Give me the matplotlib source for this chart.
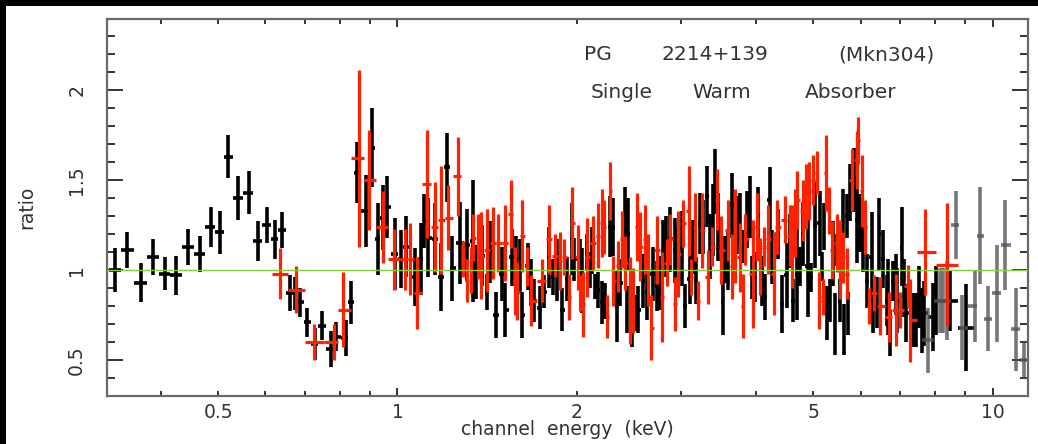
import numpy as np
import matplotlib
matplotlib.use('Agg')
import matplotlib.pyplot as plt
from matplotlib.patches import Rectangle
from matplotlib.ticker import FixedLocator, FixedFormatter, MultipleLocator

# data/model ratio: energy (keV), ratio, 1-sigma error
black_e = [0.335, 0.351, 0.3705, 0.388, 0.4065, 0.424, 0.444, 0.465, 0.486, 0.503,
           0.520, 0.539, 0.562, 0.582, 0.603, 0.622, 0.639, 0.659, 0.672, 0.685,
           0.706, 0.726, 0.746, 0.772, 0.787, 0.818, 0.834, 0.854, 0.884, 0.905,
           0.926, 0.944, 0.962, 0.989,
           1.012, 1.035, 1.072, 1.097, 1.110, 1.127, 1.158, 1.185, 1.213, 1.237,
           1.276, 1.310, 1.341, 1.357, 1.389, 1.416, 1.432, 1.466, 1.500, 1.517,
           1.560, 1.584, 1.608, 1.620, 1.658, 1.677, 1.697, 1.738, 1.765, 1.800,
           1.826, 1.855, 1.892, 1.928, 1.966, 1.980, 2.028, 2.044, 2.084, 2.108,
           2.124, 2.149, 2.174, 2.208, 2.234, 2.278, 2.304, 2.339, 2.366, 2.413,
           2.430, 2.440, 2.479, 2.508, 2.537, 2.587, 2.627, 2.689, 2.730, 2.762,
           2.794, 2.827, 2.871, 2.927, 2.950, 3.007, 3.042, 3.101, 3.137, 3.174,
           3.224, 3.262, 3.313, 3.352, 3.391, 3.417, 3.457, 3.524, 3.550, 3.590,
           3.648, 3.718, 3.760, 3.805, 3.866, 3.911, 3.942, 3.988, 4.035, 4.097,
           4.145, 4.226, 4.258, 4.358, 4.425, 4.511, 4.563, 4.616, 4.690, 4.745,
           4.800, 4.894, 4.951, 5.027, 5.125, 5.166, 5.206, 5.266, 5.328, 5.390,
           5.431, 5.473, 5.537, 5.602, 5.623, 5.689, 5.710, 5.755, 5.846, 5.914,
           5.983, 6.052, 6.146, 6.266, 6.290, 6.390, 6.450, 6.540, 6.640, 6.680,
           6.720, 6.795, 6.870, 6.920, 7.037, 7.100, 7.160, 7.340, 7.430, 7.510,
           7.600, 7.660, 7.930, 8.050, 8.470, 9.010]
black_r = [1.00, 1.11, 0.93, 1.07, 0.98, 0.97, 1.13, 1.09, 1.24, 1.21,
           1.63, 1.40, 1.43, 1.16, 1.25, 1.17, 1.22, 0.87, 0.87, 0.82,
           0.71, 0.59, 0.69, 0.56, 0.63, 0.62, 0.82, 1.54, 1.33, 1.68,
           1.17, 1.29, 1.35, 1.09,
           1.06, 1.13, 0.96, 1.06, 1.27, 1.18, 1.17, 0.96, 1.57, 1.01,
           1.15, 1.14, 1.16, 0.99, 1.08, 0.88, 1.10, 0.75, 0.98, 0.78,
           1.07, 1.06, 1.02, 0.75, 1.02, 0.93, 0.83, 0.79, 0.88, 1.07,
           0.96, 1.00, 0.78, 0.95, 1.17, 1.06, 1.04, 0.94, 1.10, 1.00,
           1.11, 0.91, 0.89, 0.82, 0.83, 1.24, 1.24, 0.80, 0.93, 1.26,
           0.78, 1.20, 0.70, 0.76, 0.78, 0.94, 0.88, 0.98, 0.91, 0.93,
           1.15, 1.13, 1.17, 1.11, 1.07, 1.12, 0.80, 0.95, 1.13, 0.94,
           1.26, 1.24, 1.41, 1.13, 1.28, 1.49, 1.24, 0.82, 1.06, 1.06,
           1.36, 1.25, 1.29, 1.13, 1.28, 1.35, 0.96, 0.96, 1.30, 0.94,
           0.85, 1.39, 1.07, 1.20, 0.81, 0.97, 1.16, 0.83, 0.98, 1.02,
           1.20, 1.02, 0.96, 1.25, 1.26, 1.02, 1.24, 0.76, 0.83, 1.09,
           0.70, 1.11, 0.83, 1.26, 0.67, 1.30, 0.76, 1.43, 1.50, 1.28,
           1.26, 1.13, 0.94, 1.07, 0.78, 0.82, 1.20, 1.06, 0.83, 0.85,
           0.65, 0.94, 0.92, 0.83, 1.13, 0.90, 0.76, 0.72, 0.72, 0.85,
           0.72, 0.76, 0.74, 0.83, 0.83, 0.68]
black_err = [0.12, 0.10, 0.11, 0.10, 0.09, 0.11, 0.10, 0.10, 0.11, 0.12,
             0.12, 0.12, 0.12, 0.11, 0.10, 0.11, 0.10, 0.10, 0.09, 0.08,
             0.08, 0.09, 0.08, 0.10, 0.08, 0.10, 0.12, 0.17, 0.20, 0.22,
             0.20, 0.18, 0.17, 0.20,
             0.16, 0.17, 0.16, 0.20, 0.15, 0.22, 0.20, 0.19, 0.19, 0.18,
             0.23, 0.20, 0.34, 0.15, 0.17, 0.10, 0.17, 0.13, 0.15, 0.15,
             0.16, 0.13, 0.15, 0.13, 0.13, 0.13, 0.12, 0.12, 0.09, 0.17,
             0.10, 0.17, 0.12, 0.12, 0.20, 0.12, 0.13, 0.18, 0.10, 0.10,
             0.13, 0.07, 0.10, 0.12, 0.10, 0.17, 0.16, 0.20, 0.13, 0.20,
             0.13, 0.20, 0.13, 0.10, 0.13, 0.15, 0.16, 0.15, 0.14, 0.15,
             0.13, 0.17, 0.18, 0.18, 0.17, 0.21, 0.12, 0.14, 0.15, 0.13,
             0.17, 0.15, 0.17, 0.18, 0.20, 0.18, 0.19, 0.18, 0.13, 0.17,
             0.18, 0.16, 0.14, 0.09, 0.16, 0.17, 0.12, 0.14, 0.16, 0.14,
             0.13, 0.18, 0.15, 0.14, 0.16, 0.18, 0.15, 0.12, 0.26, 0.11,
             0.18, 0.28, 0.08, 0.24, 0.18, 0.08, 0.13, 0.15, 0.12, 0.18,
             0.17, 0.09, 0.12, 0.19, 0.14, 0.12, 0.12, 0.16, 0.18, 0.24,
             0.16, 0.14, 0.15, 0.25, 0.13, 0.14, 0.20, 0.16, 0.14, 0.21,
             0.13, 0.11, 0.17, 0.18, 0.22, 0.16, 0.16, 0.15, 0.15, 0.17,
             0.18, 0.18, 0.19, 0.19, 0.17, 0.24]

red_e = [0.634, 0.674, 0.723, 0.781, 0.809, 0.863, 0.894, 0.944, 0.987, 1.031,
         1.051, 1.080, 1.123, 1.158, 1.185, 1.218, 1.266, 1.290, 1.310, 1.331,
         1.341, 1.367, 1.383, 1.416, 1.449, 1.477, 1.517, 1.553, 1.578, 1.590,
         1.620, 1.652, 1.677, 1.751, 1.800, 1.840, 1.877, 1.906, 1.943, 1.966,
         2.012, 2.028, 2.052, 2.084, 2.132, 2.174, 2.208, 2.225, 2.251, 2.278,
         2.304, 2.348, 2.383, 2.413, 2.459, 2.489, 2.527, 2.557, 2.607, 2.637,
         2.668, 2.730, 2.783, 2.837, 2.871, 2.927, 2.962, 3.019, 3.089, 3.113,
         3.162, 3.199, 3.249, 3.326, 3.378, 3.444, 3.500, 3.590, 3.648, 3.690,
         3.760, 3.805, 3.835, 3.957, 4.020, 4.066, 4.130, 4.193, 4.290, 4.342,
         4.476, 4.563, 4.600, 4.650, 4.700, 4.800, 4.856, 4.913, 4.990, 5.067,
         5.105, 5.186, 5.246, 5.307, 5.369, 5.473, 5.537, 5.602, 5.689, 5.800,
         5.914, 5.937, 6.030, 6.100, 6.190, 6.330, 6.470, 6.700, 6.870, 6.980,
         7.200, 7.255, 7.690, 8.370]
red_r = [0.98, 0.89, 0.60, 0.60, 0.78, 1.62, 1.50, 1.24, 1.06, 1.06,
         1.06, 0.87, 1.48, 1.24, 1.28, 1.29, 1.52, 1.06, 0.94, 1.00,
         1.18, 1.13, 1.08, 1.11, 1.15, 1.15, 1.15, 1.31, 0.94, 0.88,
         1.19, 1.02, 0.83, 0.94, 1.17, 1.08, 1.05, 1.07, 0.85, 1.26,
         1.07, 0.87, 0.81, 1.07, 1.15, 1.19, 1.26, 1.24, 0.74, 1.44,
         0.94, 1.02, 1.17, 1.04, 0.83, 0.83, 1.24, 1.13, 1.17, 1.00,
         0.68, 1.11, 0.85, 1.04, 1.17, 0.81, 1.09, 1.26, 1.33, 0.96,
         1.24, 0.83, 1.22, 0.96, 1.13, 1.39, 1.11, 1.22, 1.02, 1.19,
         1.07, 0.80, 1.17, 0.98, 1.24, 1.02, 1.13, 1.17, 0.98, 1.24,
         1.28, 1.19, 1.13, 1.26, 1.39, 1.33, 1.41, 1.44, 1.50, 1.54,
         0.83, 0.85, 1.54, 1.33, 1.11, 1.15, 1.06, 1.07, 0.98, 1.50,
         1.61, 1.72, 1.44, 1.24, 0.80, 0.87, 0.80, 0.74, 0.78, 0.78,
         0.91, 0.72, 1.10, 1.03]
red_err = [0.14, 0.13, 0.10, 0.10, 0.21, 0.49, 0.28, 0.20, 0.17, 0.17,
           0.20, 0.20, 0.30, 0.25, 0.30, 0.18, 0.22, 0.10, 0.12, 0.13,
           0.13, 0.18, 0.24, 0.23, 0.20, 0.16, 0.21, 0.19, 0.19, 0.16,
           0.20, 0.11, 0.14, 0.12, 0.19, 0.12, 0.16, 0.10, 0.13, 0.20,
           0.18, 0.10, 0.18, 0.22, 0.15, 0.18, 0.19, 0.15, 0.12, 0.16,
           0.14, 0.14, 0.16, 0.15, 0.24, 0.18, 0.19, 0.19, 0.19, 0.20,
           0.18, 0.19, 0.25, 0.13, 0.14, 0.15, 0.24, 0.13, 0.25, 0.10,
           0.19, 0.11, 0.21, 0.15, 0.11, 0.17, 0.19, 0.17, 0.18, 0.26,
           0.19, 0.18, 0.14, 0.30, 0.19, 0.16, 0.11, 0.19, 0.23, 0.15,
           0.13, 0.17, 0.23, 0.19, 0.16, 0.17, 0.18, 0.16, 0.14, 0.12,
           0.16, 0.10, 0.21, 0.13, 0.16, 0.16, 0.22, 0.14, 0.14, 0.17,
           0.16, 0.13, 0.20, 0.15, 0.10, 0.10, 0.16, 0.14, 0.20, 0.10,
           0.12, 0.23, 0.24, 0.34]

grey_e = [7.78, 8.15, 8.25, 8.37, 8.67, 8.87, 9.33, 9.51, 9.81, 10.16, 10.51, 10.97, 11.30]
grey_r = [0.61, 0.83, 0.83, 0.83, 1.25, 0.68, 0.80, 1.19, 0.73, 0.87, 1.14, 0.67, 0.50]
grey_err = [0.18, 0.18, 0.18, 0.22, 0.19, 0.18, 0.20, 0.27, 0.18, 0.27, 0.25, 0.23, 0.10]


def bin_halfwidths(e):
    # half-widths in log space from the spacing of neighbouring channels
    e = np.asarray(e, dtype=float)
    edges = np.sqrt(e[1:] * e[:-1])
    lo = np.empty_like(e)
    hi = np.empty_like(e)
    lo[1:] = e[1:] - edges
    hi[:-1] = edges - e[:-1]
    lo[0] = e[0] - e[0] ** 2 / edges[0]
    hi[-1] = e[-1] ** 2 / edges[-1] - e[-1]
    return np.vstack([lo, hi])


fig = plt.figure(figsize=(10.38, 4.44), dpi=100)
fig.patch.set_facecolor('black')
fig.patches.append(Rectangle((6 / 1038, 0), 1 - 6 / 1038, 1 - 6 / 444,
                             transform=fig.transFigure, facecolor='white',
                             edgecolor='none', zorder=-1))
ax = fig.add_axes([107 / 1038, 1 - 396 / 444, 921 / 1038, 377 / 444])

ax.errorbar(black_e, black_r, yerr=black_err, xerr=bin_halfwidths(black_e),
            fmt='none', ecolor='black', elinewidth=2.6, capsize=0, zorder=2)
ax.errorbar(red_e, red_r, yerr=red_err, xerr=bin_halfwidths(red_e),
            fmt='none', ecolor='#ff2200', elinewidth=2.3, capsize=0, zorder=3)
ax.errorbar(grey_e, grey_r, yerr=grey_err, xerr=bin_halfwidths(grey_e),
            fmt='none', ecolor='#555555', elinewidth=2.6, capsize=0, alpha=0.8, zorder=2)
ax.axhline(1.0, color='#80cf3c', lw=1.0, zorder=5)

ax.set_xscale('log')
ax.set_xlim(0.325, 11.47)
ax.set_ylim(0.3, 2.395)

ax.xaxis.set_major_locator(FixedLocator([1, 10]))
ax.xaxis.set_major_formatter(FixedFormatter(['1', '10']))
minor_x = [0.4, 0.5, 0.6, 0.7, 0.8, 0.9, 2, 3, 4, 5, 6, 7, 8, 9]
ax.xaxis.set_minor_locator(FixedLocator(minor_x))
ax.xaxis.set_minor_formatter(FixedFormatter(['', '0.5', '', '', '', '', '2', '', '', '5', '', '', '', '']))

ax.set_yticks([0.5, 1, 1.5, 2])
ax.set_yticklabels(['0.5', '1', '1.5', '2'], rotation=90, va='center')
ax.yaxis.set_minor_locator(MultipleLocator(0.1))

tc = '#333333'
ax.tick_params(axis='x', which='major', direction='in', length=6, width=1.4,
               top=True, pad=5, labelsize=13.5, colors=tc)
ax.tick_params(axis='x', which='minor', direction='in', length=3.5, width=1.4,
               top=True, pad=5, labelsize=13.5, colors=tc)
ax.tick_params(axis='y', which='major', direction='in', length=11.5, width=1.4,
               right=True, pad=15, labelsize=13.5, colors=tc)
ax.tick_params(axis='y', which='minor', direction='in', length=6, width=1.4,
               right=True, colors=tc)
for s in ax.spines.values():
    s.set_color('#6a6a6a')
    s.set_linewidth(1.6)

ax.set_xlabel('channel  energy  (keV)', fontsize=13.5, color=tc)
ax.xaxis.label.set_va('center')
ax.xaxis.set_label_coords(0.5, -0.09)
ax.set_ylabel('ratio', fontsize=13.5, color=tc)
ax.yaxis.label.set_va('center')
ax.yaxis.set_label_coords(-0.087, 0.5)

# source name and model, word by word to follow the wide plot font
for word, xw in [('PG', 0.533), ('2214+139', 0.660), ('(Mkn304)', 0.846)]:
    ax.text(xw, 0.905, word, transform=ax.transAxes, ha='center', va='center',
            fontsize=14.5, color=tc)
for word, xw in [('Single', 0.559), ('Warm', 0.667), ('Absorber', 0.807)]:
    ax.text(xw, 0.806, word, transform=ax.transAxes, ha='center', va='center',
            fontsize=14.5, color=tc)

fig.savefig('out.png', dpi=100, facecolor=fig.get_facecolor())
